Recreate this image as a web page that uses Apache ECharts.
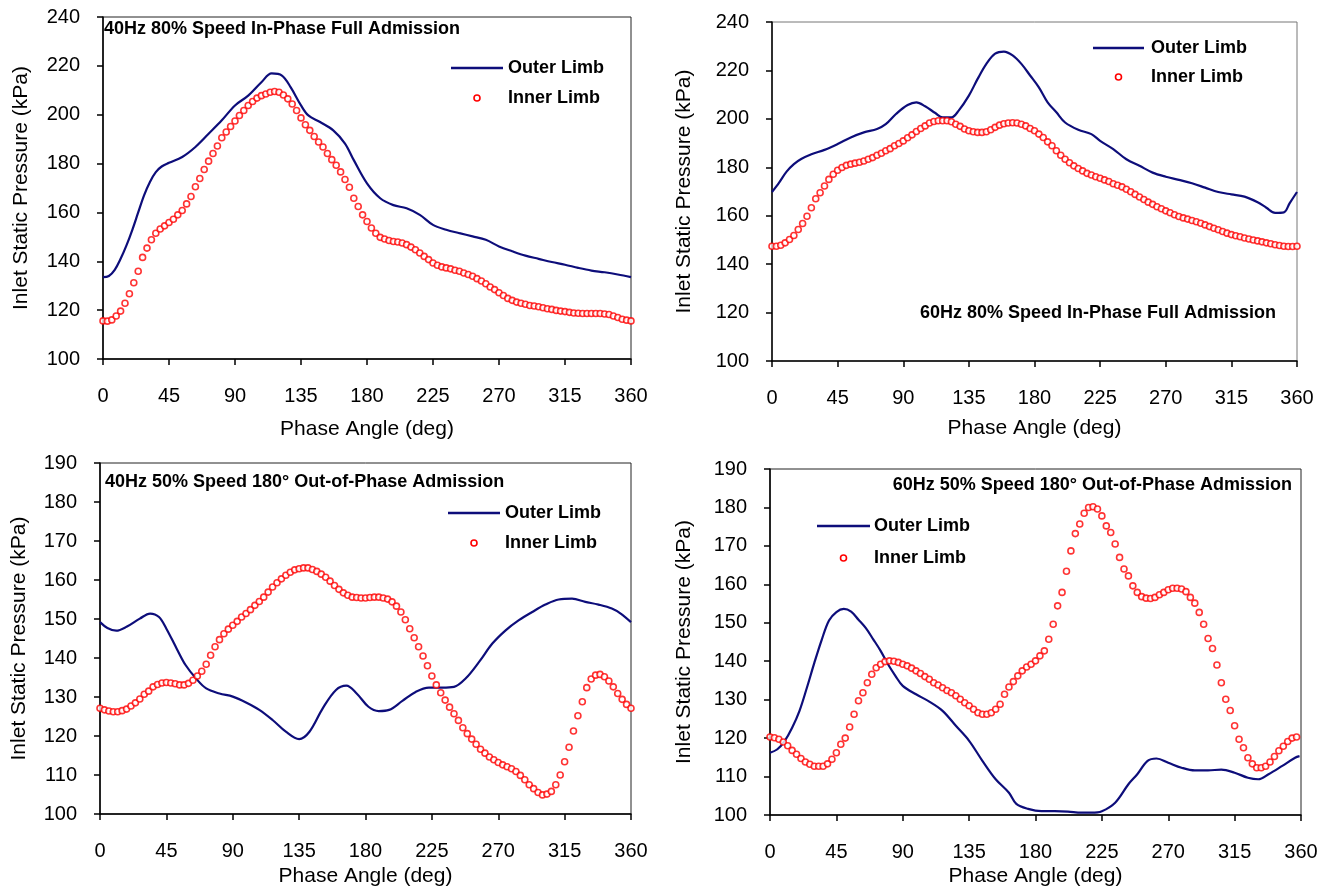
<!DOCTYPE html>
<html>
<head>
<meta charset="utf-8">
<script src="https://cdn.jsdelivr.net/npm/echarts@6/dist/echarts.min.js"></script>
<style>
html,body{margin:0;padding:0;background:#fff;}
#chart{width:1334px;height:890px;}
</style>
</head>
<body>
<div id="chart"></div>
<script>
// ---------- DATA ----------
const panelTitles = [
  '40Hz 80% Speed In-Phase Full Admission',
  '60Hz 80% Speed In-Phase Full Admission',
  '40Hz 50% Speed 180° Out-of-Phase Admission',
  '60Hz 50% Speed 180° Out-of-Phase Admission'
];
const seriesNames = ['Outer Limb', 'Inner Limb'];
const xTicks = [0, 45, 90, 135, 180, 225, 270, 315, 360];
const yTicksTop = [100, 120, 140, 160, 180, 200, 220, 240];
const yTicksBottom = [100, 110, 120, 130, 140, 150, 160, 170, 180, 190];

// Phase angles of the Inner Limb samples (deg)
const innerAngles = [0,3,6,9,12,15,18,21,24,27,30,33,36,39,42,45,48,51,54,57,60,63,66,69,72,75,78,81,84,87,90,93,96,99,102,105,108,111,114,117,120,123,126,129,132,135,138,141,144,147,150,153,156,159,162,165,168,171,174,177,180,183,186,189,192,195,198,201,204,207,210,213,216,219,222,225,228,231,234,237,240,243,246,249,252,255,258,261,264,267,270,273,276,279,282,285,288,291,294,297,300,303,306,309,312,315,318,321,324,327,330,333,336,339,342,345,348,351,354,357,360];

// Panel 1: 40Hz 80% in-phase
const outer1X = [0,4,8,12,16,20,24,28,32,36,40,45,54,63,72,81,90,99,108,115,122,128,135,140,148,157,165,171,180,189,198,207,216,225,234,243,252,261,270,279,288,297,306,315,324,333,342,351,360];
const outer1Y = [133.5,134,136.5,141,146.5,152.9,160,167,172.5,176.5,178.8,180.3,182.7,186.8,192.2,197.7,203.8,207.8,213.3,216.9,216,211.2,203.8,199.7,197,193.6,188.2,181.4,171.9,165.8,163,161.7,159,154.9,152.9,151.5,150.2,148.8,146.1,144.1,142.3,141,139.7,138.6,137.3,136.2,135.5,134.6,133.5];
const inner1Y = [115.6,115.5,116,117.6,119.6,122.8,126.7,131.2,135.9,141.6,145.4,148.8,151.5,153.2,154.5,155.9,157.2,159,160.8,163.5,166.5,170.5,173.9,177.6,181,184.1,187.2,190.6,192.9,195.2,197.4,199.7,201.7,203.8,205.4,206.8,207.8,208.5,209.2,209.5,209.2,208.1,206.5,204.4,201.7,198.7,195.9,193.6,191.1,188.8,186.8,184.1,181.6,179.3,176.6,173.5,170.3,165.8,162.4,159,156.3,153.6,151.5,149.8,149.1,148.5,148.1,147.9,147.5,146.8,145.8,144.7,143.4,142,140.7,139.3,138.4,137.7,137.3,136.9,136.3,135.9,135.2,134.6,133.9,132.9,131.9,130.8,129.5,128.4,127.1,126,124.8,124,123.3,122.8,122.4,121.9,121.7,121.4,121,120.6,120.3,119.9,119.6,119.4,119.1,118.8,118.7,118.6,118.6,118.6,118.6,118.6,118.4,118.2,117.6,117,116.3,115.9,115.6];

// Panel 2: 60Hz 80% in-phase
const outer2X = [0,5,10,15,20,27,36,45,54,63,72,78,85,93,99,105,112,117,123,128,135,141,147,153,159,165,171,177,183,189,195,201,210,219,225,234,243,252,261,270,279,288,297,306,315,324,333,339,345,351,355,360];
const outer2Y = [169.8,173.8,178.2,181.3,183.4,185.4,187.2,189.6,192.3,194.4,195.8,197.8,202,205.7,206.8,205.2,202.4,200.6,200.6,203.4,209.6,216.5,222.7,226.9,227.8,226.2,222.7,217.9,213,206.8,202.7,198.5,195.5,193.7,190.9,187.5,183.3,180.6,177.8,176.1,174.8,173.4,171.6,169.8,168.8,167.9,165.6,163.3,161.2,161.4,165.2,169.8];
const inner2Y = [147.4,147.4,147.8,148.8,150.2,151.8,154.3,156.8,159.8,163.3,167,169.5,172.3,175,177.1,178.8,179.9,180.8,181.3,181.7,182.1,182.6,183.3,184,185,185.8,186.8,187.7,188.9,189.8,190.9,192.2,193.4,194.8,196,197.1,198.3,198.9,199.2,199.2,199.2,198.8,197.8,196.9,195.8,195.1,194.7,194.4,194.4,194.7,195.5,196.5,197.4,198,198.3,198.4,198.3,197.8,197.1,196,195.1,193.7,192.3,190.5,188.9,186.8,185,183.3,181.9,180.6,179.5,178.5,177.5,176.8,176.1,175.5,174.8,174.1,173.2,172.6,171.9,170.9,169.9,168.8,167.7,166.7,165.6,164.7,163.7,162.9,162,161.2,160.4,159.7,159.1,158.6,158,157.5,156.9,156.2,155.5,154.8,154.2,153.5,152.8,152.2,151.7,151.3,150.8,150.4,150,149.6,149.2,148.8,148.4,148,147.7,147.4,147.3,147.3,147.4];

// Panel 3: 40Hz 50% out-of-phase
const outer3X = [0,5,11,18,27,34,40,45,52,58,65,72,81,90,99,108,117,126,135,142,151,160,167,174,182,189,196,205,214,223,232,240,248,257,266,275,284,293,302,311,320,329,338,347,353,360];
const outer3Y = [149.2,147.7,147,148,150.1,151.4,150.5,147.5,142.4,138.2,134.8,132.2,130.9,130.1,128.6,126.7,124.1,121.1,119.2,121.1,127.1,131.8,132.9,130.9,127.5,126.4,126.7,129,131.3,132.4,132.4,132.6,134.8,139,143.7,147.1,149.7,151.8,153.7,155,155.2,154.4,153.7,152.7,151.4,149.2];
const inner3Y = [127.1,126.7,126.4,126.2,126.2,126.5,126.9,127.7,128.5,129.5,130.7,131.5,132.6,133.2,133.6,133.7,133.6,133.4,133.1,133.1,133.5,134.3,135.4,136.6,138.4,140.7,142.9,144.7,146.2,147.4,148.4,149.4,150.5,151.4,152.4,153.5,154.5,155.6,156.9,158.2,159.3,160.3,161.2,162,162.6,162.9,163.1,163.1,162.7,162.2,161.5,160.7,159.7,158.6,157.6,156.7,156.1,155.6,155.5,155.4,155.4,155.5,155.6,155.6,155.4,155.1,154.4,153.3,151.8,149.8,147.5,145.2,142.9,140.5,138,135.4,133.1,131.1,129.2,127.4,125.7,124,122.1,120.6,119.2,117.9,116.6,115.6,114.6,113.9,113.2,112.6,112.1,111.6,110.9,109.9,108.8,107.5,106.5,105.5,104.9,105.1,105.8,107.5,110,113.4,117.1,121.3,125.2,128.8,132.4,134.6,135.6,135.8,135.2,134.1,132.6,130.9,129.4,128.1,127.1];

// Panel 4: 60Hz 50% out-of-phase
const outer4X = [0,5,10,15,20,25,30,35,40,45,50,55,60,65,70,75,80,85,90,99,108,117,126,135,144,153,162,167,175,184,193,202,211,218,225,234,243,249,256,262,270,279,288,297,306,315,324,331,338,347,356,359];
const outer4Y = [116.2,117.1,119.3,122.7,127.1,133.1,139.5,145.5,150.6,152.8,153.6,152.9,150.8,148.6,145.7,142.7,139.2,136.2,133.6,131.4,129.5,127.1,123.2,119.3,114.1,109.3,105.8,102.9,101.6,101,101,100.9,100.6,100.6,101,103.2,108,110.6,114.1,114.7,113.6,112.3,111.6,111.6,111.8,111,109.7,109.3,110.6,112.7,114.9,115.3];
const inner4Y = [120.3,120.1,119.7,119,118,116.8,115.8,114.7,113.8,113.2,112.7,112.7,112.7,113.3,114.5,116.2,118.4,120,122.9,126.2,129.7,131.8,134.4,136.6,138.3,139.2,139.9,140.1,140,139.7,139.2,138.8,138.2,137.5,136.8,136,135.3,134.4,133.8,133.1,132.4,131.8,131,130.1,129.2,128.4,127.5,126.6,126.2,126.2,126.6,127.5,128.8,131.4,133.3,134.7,136.2,137.5,138.5,139.2,140.1,141.4,142.7,145.7,149.6,154.4,157.9,163.4,168.7,173.2,175.7,178.5,180,180.2,179.6,177.8,175.2,173.5,170.5,167,164,162.2,159.6,157.9,156.8,156.4,156.3,156.6,157.3,157.9,158.6,159,159,158.8,158.1,156.6,155.1,152.7,149.6,145.9,143.3,139,134.4,130.1,127.2,123.2,119.7,117.5,114.9,113.3,112.3,112.3,112.7,113.8,115.2,116.7,117.9,119.1,120,120.3];

const outerX = [outer1X, outer2X, outer3X, outer4X];
const outerY = [outer1Y, outer2Y, outer3Y, outer4Y];
const innerY = [inner1Y, inner2Y, inner3Y, inner4Y];
const yTicks = [yTicksTop, yTicksTop, yTicksBottom, yTicksBottom];

// ---------- LAYOUT / STYLE ----------
const FONT = '"Liberation Sans", Arial, sans-serif';
const NAVY = '#0d0d7a';
const RED = '#ff0000';
const grids = [
  {left: 103, top: 17, width: 528, height: 342, yNameGap: 71, xNameGap: 60, border: '#222'},
  {left: 772, top: 22, width: 525, height: 339, yNameGap: 77, xNameGap: 57, border: '#777'},
  {left: 100, top: 463, width: 531, height: 351, yNameGap: 70, xNameGap: 52, border: '#222'},
  {left: 770, top: 469, width: 531, height: 346, yNameGap: 75, xNameGap: 51, border: '#222'}
];
const titlePos = [
  {left: 104, top: 20},
  {right: 58, top: 304},
  {left: 105, top: 473},
  {right: 42, top: 476}
];
const legendPos = [
  {x1: 451, x2: 503, y1: 68, y2: 98, tx: 508},
  {x1: 1093, x2: 1144, y1: 48, y2: 77, tx: 1151},
  {x1: 448, x2: 500, y1: 513, y2: 543, tx: 505},
  {x1: 817, x2: 870, y1: 526, y2: 558, tx: 874}
];

const option = {
  backgroundColor: '#ffffff',
  animation: false,
  title: panelTitles.map((t, i) => Object.assign({
    text: t,
    textStyle: {fontFamily: FONT, fontWeight: 'bold', fontSize: 18, color: '#000'},
    padding: 0
  }, titlePos[i])),
  grid: grids.map(g => ({
    left: g.left, top: g.top, width: g.width, height: g.height,
    show: true, borderColor: g.border, borderWidth: 1, backgroundColor: 'transparent'
  })),
  xAxis: grids.map((g, i) => ({
    type: 'value', gridIndex: i, min: xTicks[0], max: xTicks[xTicks.length - 1], interval: 45,
    name: 'Phase Angle (deg)', nameLocation: 'middle', nameGap: g.xNameGap,
    nameTextStyle: {fontFamily: FONT, fontSize: 21, color: '#000'},
    axisLine: {show: true, onZero: false, lineStyle: {color: '#000', width: 1.5}},
    axisTick: {show: true, inside: false, length: 6, lineStyle: {color: '#000', width: 1.5}},
    axisLabel: {fontFamily: FONT, fontSize: 20, color: '#000', margin: 27},
    splitLine: {show: false}
  })),
  yAxis: grids.map((g, i) => ({
    type: 'value', gridIndex: i,
    min: yTicks[i][0], max: yTicks[i][yTicks[i].length - 1],
    interval: yTicks[i][1] - yTicks[i][0],
    name: 'Inlet Static Pressure (kPa)', nameLocation: 'middle', nameGap: g.yNameGap,
    nameTextStyle: {fontFamily: FONT, fontSize: 21, color: '#000'},
    axisLine: {show: true, onZero: false, lineStyle: {color: '#000', width: 1.5}},
    axisTick: {show: true, inside: false, length: 6, lineStyle: {color: '#000', width: 1.5}},
    axisLabel: {fontFamily: FONT, fontSize: 20, color: '#000', margin: 23},
    splitLine: {show: false}
  })),
  series: [],
  graphic: []
};

for (let i = 0; i < 4; i++) {
  option.series.push({
    name: seriesNames[0], type: 'line', xAxisIndex: i, yAxisIndex: i,
    data: outerX[i].map((x, k) => [x, outerY[i][k]]),
    showSymbol: false, symbol: 'none', smooth: 0.35,
    lineStyle: {color: NAVY, width: 2.2}, z: 2
  });
  option.series.push({
    name: seriesNames[1], type: 'scatter', xAxisIndex: i, yAxisIndex: i,
    data: innerY[i].map((y, k) => [innerAngles[k], y]),
    symbol: 'circle', symbolSize: 6,
    itemStyle: {color: '#ffffff', borderColor: RED, borderWidth: 1.6}, z: 3
  });
  const L = legendPos[i];
  option.graphic.push(
    {type: 'line', shape: {x1: L.x1, y1: L.y1, x2: L.x2, y2: L.y1}, style: {stroke: NAVY, lineWidth: 2.5}},
    {type: 'circle', shape: {cx: (L.x1 + L.x2) / 2, cy: L.y2, r: 3}, style: {fill: '#fff', stroke: RED, lineWidth: 1.6}},
    {type: 'text', x: L.tx, y: L.y1, style: {text: seriesNames[0], font: 'bold 18px ' + FONT, fill: '#000', verticalAlign: 'middle'}},
    {type: 'text', x: L.tx, y: L.y2, style: {text: seriesNames[1], font: 'bold 18px ' + FONT, fill: '#000', verticalAlign: 'middle'}}
  );
}

const chart = echarts.init(document.getElementById('chart'), null, {renderer: 'canvas'});
chart.setOption(option);
</script>
</body>
</html>
